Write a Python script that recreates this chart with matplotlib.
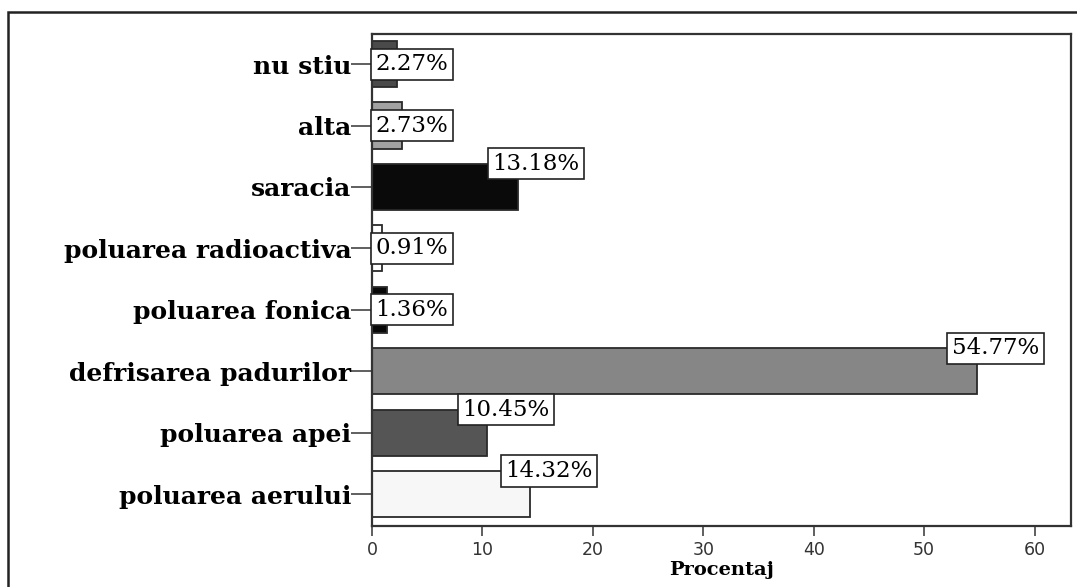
import matplotlib.pyplot as plt
from matplotlib.patches import Rectangle

categories = ['poluarea aerului', 'poluarea apei', 'defrisarea padurilor',
              'poluarea fonica', 'poluarea radioactiva', 'saracia', 'alta', 'nu stiu']
values = [14.32, 10.45, 54.77, 1.36, 0.91, 13.18, 2.73, 2.27]
labels = ['14.32%', '10.45%', '54.77%', '1.36%', '0.91%', '13.18%', '2.73%', '2.27%']
colors = ['#f7f7f7', '#555555', '#868686', '#080808', '#ffffff', '#0a0a0a', '#a2a2a2', '#4a4a4a']
xticks = [0, 10, 20, 30, 40, 50, 60]

fig = plt.figure(figsize=(10.77, 5.87), dpi=100)
# outer frame
fig.patches.append(Rectangle((8 / 1077, -0.1), 1.2, 1 - 12 / 587 + 0.1,
                             transform=fig.transFigure, fill=False,
                             edgecolor='#222222', linewidth=1.8))

ax = fig.add_axes([372 / 1077, 1 - 526 / 587, (1071 - 372) / 1077, (526 - 34) / 587])
ypos = list(range(len(categories)))
bh = 0.75
ax.barh(ypos, values, height=bh, color=colors, edgecolor='#2a2a2a', linewidth=1.3)
ax.set_xlim(0, 63.3)
ax.set_ylim(-0.52, 7.49)
ax.set_yticks(ypos)
ax.set_yticklabels(categories, fontfamily='DejaVu Serif', fontweight='bold', fontsize=18)
ax.set_xticks(xticks)
ax.set_xticklabels([str(t) for t in xticks], fontfamily='DejaVu Sans', fontsize=12.5, color='#333333')
ax.tick_params(axis='y', length=15, width=1.2, pad=0, color='#444444')
ax.tick_params(axis='x', length=7, width=1.2, pad=4, color='#444444')
for s in ax.spines.values():
    s.set_color('#333333')
    s.set_linewidth(1.6)
ax.set_xlabel('Procentaj', fontfamily='DejaVu Serif', fontweight='bold', fontsize=14, labelpad=1)

# value labels
px = 63.3 / (1071 - 372)
for y, v, lab in zip(ypos, values, labels):
    if v < 5:
        tx, ty = 0.3, y
    else:
        tx, ty = max(v - 25 * px, 0.3), y + bh / 2
    ax.text(tx, ty, lab, ha='left', va='center', fontfamily='DejaVu Serif',
            fontsize=16.5, color='black',
            bbox=dict(boxstyle='square,pad=0.2', facecolor='white', edgecolor='#222222', linewidth=1.2))

fig.savefig('out.png', dpi=100)
